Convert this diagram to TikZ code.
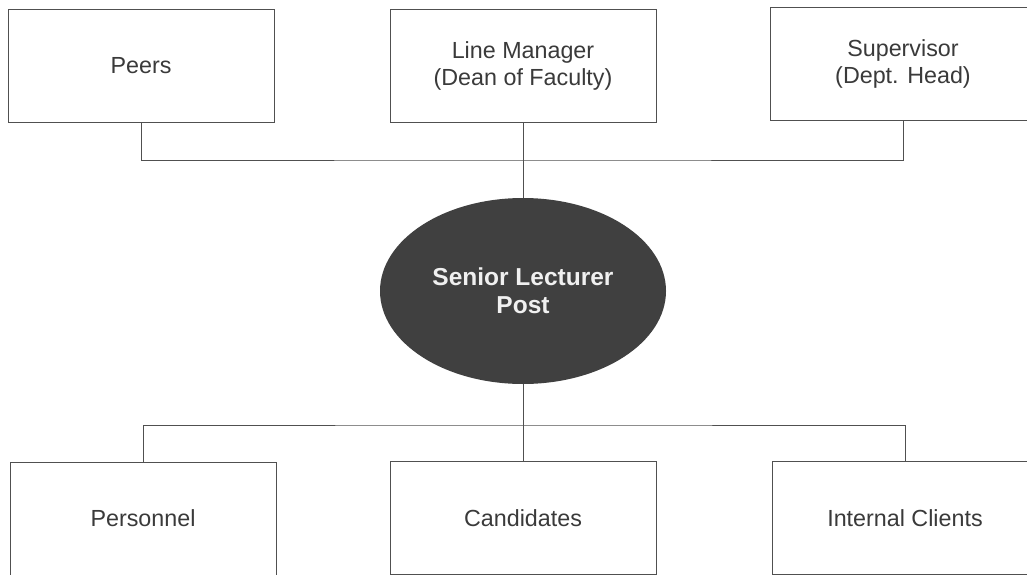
\documentclass[tikz,border=0pt]{standalone}
\usepackage{fontspec}
\setmainfont{Liberation Sans}
\usetikzlibrary{shapes, positioning, shapes.geometric}

\definecolor{inkgray}{HTML}{3A3A3A}
\definecolor{linegray}{HTML}{505050}
\definecolor{postfill}{HTML}{404040}

\begin{document}
\begin{tikzpicture}[x=1pt, y=-1pt,
    % Stili per i riquadri
    role/.style={rectangle, draw=linegray, line width=0.8pt, fill=white, minimum width=266pt, minimum height=113pt, inner sep=0pt, align=center, text=inkgray, font=\fontsize{23.3}{27}\selectfont},
    post/.style={ellipse, draw=none, fill=postfill, minimum width=286pt, minimum height=186pt, inner sep=0pt, align=center, text=white!94!black, font=\fontsize{24.5}{28}\selectfont\bfseries},
    % Stili per le connessioni
    link/.style={draw=linegray, line width=0.8pt}
]
\useasboundingbox (0,0) rectangle (1027,575);

% === RUOLI SUPERIORI ===
\node[role] (peers) at (141,66) {Peers};
\node[role] (linemgr) at (523,65.5) {Line Manager\\(Dean of Faculty)};
\node[role] (superv) at (903,64) {Supervisor\\(Dept. Head)};

% === POSTO CENTRALE ===
\node[post] (lecturer) at (523,291) {Senior Lecturer\\Post};

% === RUOLI INFERIORI ===
\node[role] (personnel) at (143,518.5) {Personnel};
\node[role] (cands) at (523,518) {Candidates};
\node[role] (clients) at (905,518) {Internal Clients};

% === CONNESSIONI ===
\coordinate (topbus) at (523,160);
\coordinate (lowbus) at (523,425);
\draw[link] (peers.south) |- (topbus) -| (superv.south);
\draw[link] (linemgr.south) -- (lecturer.north);
\draw[link] (lecturer.south) -- (lowbus);
\draw[link] (personnel.north) |- (lowbus) -| (clients.north);
\draw[link] (lowbus) -- (cands.north);

\end{tikzpicture}
\end{document}
